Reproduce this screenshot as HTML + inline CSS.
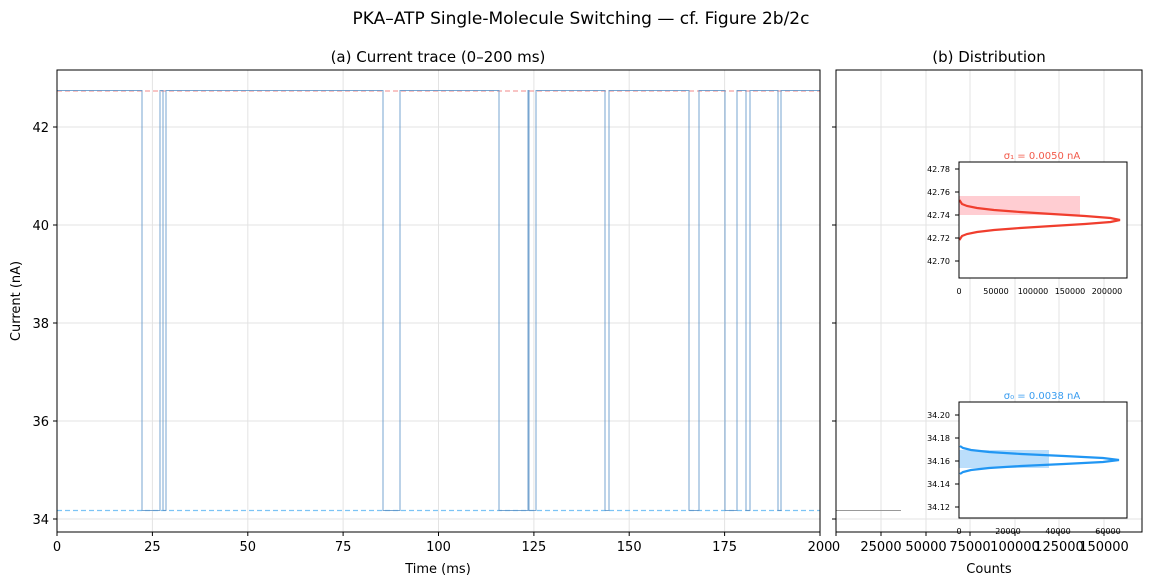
<!DOCTYPE html>
<html><head><meta charset="utf-8"><style>body{margin:0;background:#fff}svg{display:block;font-family:"DejaVu Sans","Liberation Sans",sans-serif}</style></head>
<body>
<svg width="1151" height="585" viewBox="0 0 1151 585">
<rect width="1151" height="585" fill="#fff"/>
<text x="581" y="24" font-size="17" text-anchor="middle">PKA–ATP Single-Molecule Switching — cf. Figure 2b/2c</text>
<text x="438" y="62" font-size="15" text-anchor="middle">(a) Current trace (0–200 ms)</text>
<text x="989" y="62" font-size="15" text-anchor="middle">(b) Distribution</text>
<g stroke="#e3e3e3" stroke-width="1">
<line x1="152.4" y1="70" x2="152.4" y2="532"/><line x1="247.8" y1="70" x2="247.8" y2="532"/><line x1="343.1" y1="70" x2="343.1" y2="532"/><line x1="438.5" y1="70" x2="438.5" y2="532"/><line x1="533.9" y1="70" x2="533.9" y2="532"/><line x1="629.2" y1="70" x2="629.2" y2="532"/><line x1="724.6" y1="70" x2="724.6" y2="532"/>
<line x1="57" y1="127" x2="820" y2="127"/><line x1="57" y1="225" x2="820" y2="225"/><line x1="57" y1="323" x2="820" y2="323"/><line x1="57" y1="421" x2="820" y2="421"/><line x1="57" y1="519" x2="820" y2="519"/>
</g>
<line x1="57" y1="91" x2="820" y2="91" stroke="#f4a0a0" stroke-width="1.2" stroke-dasharray="5,3"/>
<line x1="57" y1="510.5" x2="820" y2="510.5" stroke="#7cc4f5" stroke-width="1.2" stroke-dasharray="5,3"/>
<path d="M57 90.5 H142 V510.5 H160 V90.5 H163 V510.5 H166 V90.5 H383 V510.5 H400 V90.5 H499 V510.5 H528 V90.5 H529 V510.5 H536 V90.5 H605 V510.5 H609 V90.5 H689 V510.5 H699 V90.5 H725 V510.5 H737 V90.5 H746 V510.5 H750 V90.5 H778 V510.5 H781 V90.5 H820" fill="none" stroke="#5f95c8" stroke-width="1" opacity="0.85"/>
<rect x="57" y="70" width="763" height="462" fill="none" stroke="#000" stroke-width="1"/>
<g stroke="#000"><line x1="57" y1="532" x2="57" y2="536"/><line x1="152.4" y1="532" x2="152.4" y2="536"/><line x1="247.8" y1="532" x2="247.8" y2="536"/><line x1="343.1" y1="532" x2="343.1" y2="536"/><line x1="438.5" y1="532" x2="438.5" y2="536"/><line x1="533.9" y1="532" x2="533.9" y2="536"/><line x1="629.2" y1="532" x2="629.2" y2="536"/><line x1="724.6" y1="532" x2="724.6" y2="536"/><line x1="820" y1="532" x2="820" y2="536"/>
<line x1="53" y1="127" x2="57" y2="127"/><line x1="53" y1="225" x2="57" y2="225"/><line x1="53" y1="323" x2="57" y2="323"/><line x1="53" y1="421" x2="57" y2="421"/><line x1="53" y1="519" x2="57" y2="519"/></g>
<g font-size="13" text-anchor="middle"><text x="57" y="551">0</text><text x="152.4" y="551">25</text><text x="247.8" y="551">50</text><text x="343.1" y="551">75</text><text x="438.5" y="551">100</text><text x="533.9" y="551">125</text><text x="629.2" y="551">150</text><text x="724.6" y="551">175</text><text x="820" y="551">200</text></g>
<g font-size="13" text-anchor="end"><text x="49" y="132">42</text><text x="49" y="230">40</text><text x="49" y="328">38</text><text x="49" y="426">36</text><text x="49" y="524">34</text></g>
<text x="438" y="573" font-size="13" text-anchor="middle">Time (ms)</text>
<text transform="translate(20,301) rotate(-90)" font-size="13" text-anchor="middle">Current (nA)</text>
<g stroke="#e3e3e3"><line x1="881" y1="70" x2="881" y2="532"/><line x1="926" y1="70" x2="926" y2="532"/><line x1="970" y1="70" x2="970" y2="532"/><line x1="1015" y1="70" x2="1015" y2="532"/><line x1="1059" y1="70" x2="1059" y2="532"/><line x1="1104" y1="70" x2="1104" y2="532"/>
<line x1="836" y1="127" x2="1142" y2="127"/><line x1="836" y1="225" x2="1142" y2="225"/><line x1="836" y1="323" x2="1142" y2="323"/><line x1="836" y1="421" x2="1142" y2="421"/><line x1="836" y1="519" x2="1142" y2="519"/></g>
<line x1="836" y1="510.5" x2="901" y2="510.5" stroke="#999" stroke-width="1"/>
<rect x="836" y="70" width="306" height="462" fill="none" stroke="#000"/>
<g stroke="#000"><line x1="836" y1="532" x2="836" y2="536"/><line x1="881" y1="532" x2="881" y2="536"/><line x1="926" y1="532" x2="926" y2="536"/><line x1="970" y1="532" x2="970" y2="536"/><line x1="1015" y1="532" x2="1015" y2="536"/><line x1="1059" y1="532" x2="1059" y2="536"/><line x1="1104" y1="532" x2="1104" y2="536"/>
<line x1="832" y1="127" x2="836" y2="127"/><line x1="832" y1="225" x2="836" y2="225"/><line x1="832" y1="323" x2="836" y2="323"/><line x1="832" y1="421" x2="836" y2="421"/><line x1="832" y1="519" x2="836" y2="519"/></g>
<g font-size="13" text-anchor="middle"><text x="836" y="551">0</text><text x="881" y="551">25000</text><text x="926" y="551">50000</text><text x="970" y="551">75000</text><text x="1015" y="551">100000</text><text x="1059" y="551">125000</text><text x="1104" y="551">150000</text></g>
<text x="989" y="573" font-size="13" text-anchor="middle">Counts</text>
<rect x="959" y="162" width="168" height="116" fill="#fff" stroke="#000"/>
<rect x="959" y="196" width="121" height="19" fill="#ffcdd2"/>
<polyline fill="none" stroke="#f03e2e" stroke-width="2.2" points="959.4,200 962,204 967,206 977,208 994,210 1020,212 1052,214 1085,216 1110.5,218 1120,220 1110.5,222 1085,224 1052,226 1020,228 994,230 977,232 967,234 962,236 959.4,240"/>
<rect x="959" y="162" width="168" height="116" fill="none" stroke="#000"/>
<text x="1042" y="159" font-size="10" fill="#f25a4a" text-anchor="middle">σ₁ = 0.0050 nA</text>
<g font-size="8" text-anchor="end"><text x="950" y="172">42.78</text><text x="950" y="195">42.76</text><text x="950" y="218">42.74</text><text x="950" y="241">42.72</text><text x="950" y="264">42.70</text></g>
<g stroke="#000"><line x1="955" y1="169" x2="959" y2="169"/><line x1="955" y1="192" x2="959" y2="192"/><line x1="955" y1="215" x2="959" y2="215"/><line x1="955" y1="238" x2="959" y2="238"/><line x1="955" y1="261" x2="959" y2="261"/></g>
<g font-size="8" text-anchor="middle"><text x="959" y="294">0</text><text x="996" y="294">50000</text><text x="1033" y="294">100000</text><text x="1070" y="294">150000</text><text x="1107" y="294">200000</text></g>
<rect x="959" y="402" width="168" height="116" fill="#fff" stroke="#000"/>
<rect x="959" y="450" width="90" height="18" fill="#bbdefb"/>
<polyline fill="none" stroke="#2196f3" stroke-width="2.2" points="960,446 963,448 971,450 989,452 1021,454 1064,456 1103,458 1119,460 1103,462 1064,464 1021,466 989,468 971,470 963,472 960,474"/>
<rect x="959" y="402" width="168" height="116" fill="none" stroke="#000"/>
<text x="1042" y="399" font-size="10" fill="#3a9df0" text-anchor="middle">σ₀ = 0.0038 nA</text>
<g font-size="8" text-anchor="end"><text x="950" y="418">34.20</text><text x="950" y="441">34.18</text><text x="950" y="464">34.16</text><text x="950" y="487">34.14</text><text x="950" y="510">34.12</text></g>
<g stroke="#000"><line x1="955" y1="415" x2="959" y2="415"/><line x1="955" y1="438" x2="959" y2="438"/><line x1="955" y1="461" x2="959" y2="461"/><line x1="955" y1="484" x2="959" y2="484"/><line x1="955" y1="507" x2="959" y2="507"/></g>
<g font-size="8" text-anchor="middle"><text x="959" y="534">0</text><text x="1008" y="534">20000</text><text x="1058" y="534">40000</text><text x="1108" y="534">60000</text></g>
</svg>
</body></html>
